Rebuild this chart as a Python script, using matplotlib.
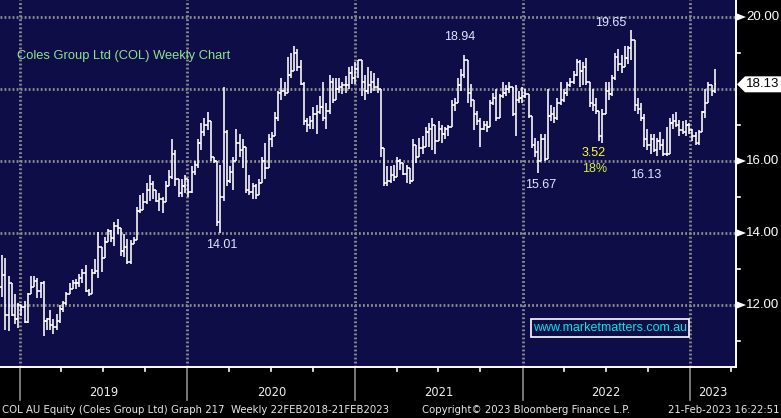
import matplotlib
matplotlib.use('Agg')
import matplotlib.pyplot as plt
import matplotlib.dates as mdates
from matplotlib.collections import LineCollection
from matplotlib.patches import Polygon, Rectangle
import pandas as pd
import datetime as dt

plt.rcParams['lines.scale_dashes'] = False

# ---------------- data (weekly bars, COL AU) ----------------
first_week = '2018-11-23'

opens = [12.5, 12.84, 11.71, 12.6, 11.73, 11.6, 12.0, 11.95, 11.52, 12.3,
         12.5, 12.68, 12.4, 12.6, 11.55, 11.6, 11.45, 11.4, 11.55, 11.9,
         12.05, 12.3, 12.45, 12.6, 12.62, 12.75, 12.9, 12.4, 12.3, 12.9,
         12.95, 13.6, 13.3, 13.75, 14.05, 13.85, 14.2, 14.15, 13.5, 13.6,
         13.2, 13.7, 13.8, 14.6, 14.65, 14.85, 15.2, 15.35, 15.2, 14.9,
         14.95, 14.85, 15.3, 15.55, 16.2, 15.5, 15.1, 15.3, 15.5, 15.15,
         15.7, 15.9, 16.5, 16.8, 17.0, 17.1, 16.1, 16.0, 14.3, 15.0,
         16.8, 15.45, 15.7, 16.0, 16.5, 16.3, 16.4, 15.2, 15.15, 15.3,
         15.05, 15.4, 16.0, 15.8, 16.6, 16.7, 17.2, 17.9, 17.95, 17.9,
         18.4, 18.5, 19.0, 18.6, 18.15, 17.1, 17.0, 17.1, 17.3, 17.35,
         17.5, 17.2, 17.4, 18.2, 17.7, 18.0, 18.05, 18.1, 18.1, 18.45,
         18.3, 18.55, 18.8, 18.2, 17.95, 18.1, 18.2, 18.05, 18.0, 16.35,
         15.4, 15.45, 15.6, 15.55, 16.0, 15.95, 15.65, 15.8, 15.45, 16.45,
         16.1, 16.35, 16.4, 16.8, 16.9, 17.0, 16.55, 16.9, 16.75, 16.9,
         16.95, 17.55, 17.6, 18.1, 18.4, 18.8, 17.9, 17.7, 17.3, 17.1,
         16.9, 17.0, 16.95, 17.6, 17.75, 17.2, 17.8, 17.9, 18.0, 18.05,
         17.3, 17.7, 17.75, 17.8, 17.85, 17.25, 16.45, 16.25, 16.0, 16.6,
         16.05, 17.25, 17.3, 17.2, 17.6, 17.7, 17.9, 18.1, 18.2, 18.4,
         18.75, 18.5, 18.6, 18.2, 17.6, 17.55, 17.4, 16.7, 17.3, 17.95,
         17.85, 18.3, 18.9, 18.7, 18.6, 18.85, 19.15, 19.35, 17.55, 17.45,
         17.2, 16.6, 16.45, 16.6, 16.3, 16.55, 16.45, 16.2, 16.2, 17.05,
         17.1, 17.0, 16.85, 16.8, 17.0, 16.85, 16.7, 16.5, 16.8, 17.35,
         17.6, 18.1, 17.95]

highs = [13.38, 13.31, 12.8, 12.6, 12.3, 12.05, 12.0, 12.1, 12.34, 12.8,
         12.8, 12.75, 12.65, 12.66, 11.65, 11.85, 11.6, 11.75, 12.0, 12.1,
         12.35, 12.6, 12.7, 12.72, 12.85, 13.0, 13.1, 12.45, 13.0, 13.28,
         14.03, 13.6, 13.9, 14.12, 14.07, 14.3, 14.4, 14.03, 13.98, 13.84,
         13.8, 13.9, 14.73, 15.05, 15.1, 15.4, 15.6, 15.45, 15.1, 15.1,
         15.0, 15.45, 15.75, 16.6, 16.3, 15.4, 15.5, 15.6, 15.5, 15.85,
         16.0, 16.6, 17.05, 17.2, 17.35, 17.1, 16.1, 16.0, 15.9, 18.05,
         16.85, 15.85, 16.1, 16.9, 16.75, 16.6, 15.9, 15.6, 15.4, 15.35,
         15.5, 16.1, 16.5, 16.75, 16.8, 17.35, 17.95, 18.3, 18.2, 18.9,
         19.0, 19.2, 19.1, 18.8, 18.2, 17.2, 17.25, 17.5, 17.55, 17.8,
         18.2, 17.6, 18.4, 18.3, 18.3, 18.3, 18.2, 18.35, 18.6, 18.65,
         18.75, 18.8, 18.8, 18.4, 18.6, 18.5, 18.45, 18.3, 18.0, 16.3,
         15.85, 15.85, 15.9, 16.1, 16.05, 15.95, 15.9, 15.8, 16.6, 16.35,
         16.65, 16.7, 16.95, 17.05, 17.2, 16.9, 17.1, 17.0, 16.95, 17.0,
         17.7, 17.75, 18.3, 18.55, 18.94, 18.8, 18.15, 17.7, 17.4, 17.2,
         17.1, 17.1, 17.7, 17.9, 18.0, 17.85, 18.2, 18.1, 18.2, 18.05,
         18.1, 17.95, 18.05, 18.0, 17.85, 17.25, 16.65, 16.55, 16.75, 16.75,
         18.0, 17.55, 17.5, 17.75, 18.2, 18.0, 18.2, 18.3, 18.5, 18.83,
         18.8, 18.75, 18.85, 18.2, 18.0, 17.75, 17.4, 17.45, 18.2, 18.2,
         18.4, 19.0, 19.1, 18.95, 19.2, 19.2, 19.65, 19.35, 17.75, 17.6,
         17.3, 16.9, 16.75, 16.75, 16.65, 16.8, 16.6, 16.95, 17.2, 17.3,
         17.35, 17.15, 17.1, 17.15, 17.05, 16.9, 16.8, 16.85, 17.4, 18.0,
         18.2, 18.1, 18.55]

lows = [12.22, 11.3, 11.28, 11.7, 11.46, 11.35, 11.7, 11.5, 11.5, 12.3,
        12.5, 12.2, 12.2, 11.13, 11.3, 11.3, 11.2, 11.3, 11.5, 11.8,
        12.0, 12.3, 12.45, 12.45, 12.5, 12.6, 12.35, 12.25, 12.3, 12.85,
        12.76, 12.92, 13.3, 13.9, 13.75, 13.63, 13.98, 13.35, 13.33, 13.14,
        13.14, 13.7, 13.8, 14.55, 14.75, 14.8, 14.9, 14.95, 14.85, 14.6,
        14.55, 14.95, 15.3, 15.5, 15.3, 15.0, 15.0, 15.1, 15.0, 15.1,
        15.6, 15.8, 16.3, 16.7, 16.85, 16.0, 15.95, 14.2, 14.01, 14.9,
        15.3, 15.4, 15.2, 16.0, 16.1, 15.8, 15.1, 15.05, 14.95, 14.95,
        15.05, 15.5, 15.5, 15.8, 16.4, 16.7, 17.1, 17.7, 17.8, 17.9,
        18.3, 18.5, 18.5, 18.1, 17.0, 16.8, 16.9, 16.9, 16.75, 17.3,
        17.1, 16.9, 17.3, 17.6, 17.7, 17.9, 17.85, 17.9, 18.0, 18.15,
        18.15, 18.3, 17.8, 17.7, 17.85, 17.9, 17.95, 17.9, 16.1, 15.3,
        15.3, 15.4, 15.45, 15.55, 15.75, 15.6, 15.4, 15.35, 15.45, 15.95,
        16.1, 16.2, 16.4, 16.4, 16.3, 16.2, 16.55, 16.5, 16.6, 16.7,
        16.95, 17.4, 17.6, 17.95, 18.3, 17.6, 17.5, 16.85, 17.0, 16.4,
        16.85, 16.8, 16.95, 17.55, 17.1, 17.2, 17.75, 17.8, 17.9, 17.25,
        16.7, 17.6, 17.6, 17.75, 17.2, 16.35, 16.1, 15.67, 16.0, 16.0,
        16.05, 17.1, 17.05, 17.15, 17.55, 17.65, 17.8, 18.05, 18.15, 18.35,
        18.05, 18.1, 18.1, 17.5, 17.4, 17.3, 16.55, 16.5, 17.3, 17.7,
        17.8, 18.25, 18.5, 18.45, 18.6, 18.7, 18.8, 17.4, 17.3, 17.1,
        16.4, 16.3, 16.2, 16.25, 16.15, 16.3, 16.13, 16.15, 16.2, 16.9,
        16.95, 16.7, 16.75, 16.7, 16.75, 16.55, 16.45, 16.45, 16.8, 17.2,
        17.6, 17.8, 17.9]

closes = [12.84, 11.71, 12.6, 11.73, 11.6, 12.0, 11.95, 11.52, 12.3, 12.5,
          12.68, 12.4, 12.6, 11.55, 11.6, 11.45, 11.4, 11.55, 11.9, 12.05,
          12.3, 12.45, 12.6, 12.62, 12.75, 12.9, 12.4, 12.3, 12.9, 12.95,
          13.6, 13.3, 13.75, 14.05, 13.85, 14.2, 14.15, 13.5, 13.6, 13.2,
          13.7, 13.8, 14.6, 14.65, 14.85, 15.2, 15.35, 15.2, 14.9, 14.95,
          14.85, 15.3, 15.55, 16.2, 15.5, 15.1, 15.3, 15.5, 15.15, 15.7,
          15.9, 16.5, 16.8, 17.0, 17.1, 16.1, 16.0, 14.3, 15.0, 16.8,
          15.45, 15.7, 16.0, 16.5, 16.3, 16.4, 15.2, 15.15, 15.3, 15.05,
          15.4, 16.0, 15.8, 16.6, 16.7, 17.2, 17.9, 17.95, 17.9, 18.4,
          18.5, 19.0, 18.6, 18.15, 17.1, 17.0, 17.1, 17.3, 17.35, 17.5,
          17.2, 17.4, 18.2, 17.7, 18.0, 18.05, 18.1, 18.1, 18.45, 18.3,
          18.55, 18.8, 18.2, 17.95, 18.1, 18.2, 18.05, 18.0, 16.35, 15.4,
          15.45, 15.6, 15.55, 16.0, 15.95, 15.65, 15.8, 15.45, 16.45, 16.1,
          16.35, 16.4, 16.8, 16.9, 17.0, 16.55, 16.9, 16.75, 16.9, 16.95,
          17.55, 17.6, 18.1, 18.4, 18.8, 17.9, 17.7, 17.3, 17.1, 16.9,
          17.0, 16.95, 17.6, 17.75, 17.2, 17.8, 17.9, 18.0, 18.05, 17.3,
          17.7, 17.75, 17.8, 17.85, 17.25, 16.45, 16.25, 16.0, 16.6, 16.05,
          17.25, 17.3, 17.2, 17.6, 17.7, 17.9, 18.1, 18.2, 18.4, 18.75,
          18.5, 18.6, 18.2, 17.6, 17.55, 17.4, 16.7, 17.3, 17.95, 17.85,
          18.3, 18.9, 18.7, 18.6, 18.85, 19.15, 19.35, 17.55, 17.45, 17.2,
          16.6, 16.45, 16.6, 16.3, 16.55, 16.45, 16.2, 16.2, 17.05, 17.1,
          17.0, 16.85, 16.8, 17.0, 16.85, 16.7, 16.5, 16.8, 17.35, 17.6,
          18.1, 17.95, 18.13]

y_ticks = [12.0, 14.0, 16.0, 18.0, 20.0]
y_tick_labels = ['12.00', '14.00', '16.00', '18.00', '20.00']
y_minor = [11.0, 13.0, 15.0, 17.0, 19.0]
years = ['2019', '2020', '2021', '2022', '2023']
last_price_label = '18.13'
last_price = 18.13

annotation_texts = ['18.94', '19.65', '14.01', '15.67', '16.13', '3.52', '18%']
annotation_colours = ['#dfe8ff', '#dfe8ff', '#dfe8ff', '#dfe8ff', '#dfe8ff',
                      '#ffff33', '#d8f040']
title_text = 'Coles Group Ltd (COL) Weekly Chart'
website = 'www.marketmatters.com.au'
footer_left = 'COL AU Equity (Coles Group Ltd) Graph 217  Weekly 22FEB2018-21FEB2023'
footer_mid = 'Copyright\u00a9 2023 Bloomberg Finance L.P.'
footer_right = '21-Feb-2023 16:22:51'

# ---------------- layout ----------------
W, H = 781, 418
PX_AX_W, PX_AX_H = 736, 367
NAVY = '#0e0d48'
GRID = '#8c8c8c'
FONT = 'Liberation Sans'

# pixel centres of the annotation labels (layout)
annotation_px = [(459.5, 37.5), (611, 23.5), (222, 245), (540.5, 184.5),
                 (645.5, 174.5), (594, 153), (594.5, 169)]

fig = plt.figure(figsize=(W / 100, H / 100), dpi=100, facecolor='black')
ax = fig.add_axes([0, (H - PX_AX_H) / H, PX_AX_W / W, PX_AX_H / H])
ax.set_facecolor(NAVY)

base = mdates.date2num(dt.datetime(2019, 1, 1))
ppd = (690 - 20) / 1461.0            # pixels per day
xmin = base - 20 / ppd
xmax = base + (PX_AX_W - 20) / ppd
ax.set_xlim(xmin, xmax)
ppu = 36.0                          # pixels per price unit
ymax = 20.0 + 17 / ppu
ymin = ymax - PX_AX_H / ppu
ax.set_ylim(ymin, ymax)

for s in ['top', 'left']:
    ax.spines[s].set_visible(False)
ax.spines['right'].set_color('white')
ax.spines['bottom'].set_color('white')
ax.spines['right'].set_linewidth(1.4)
ax.spines['bottom'].set_linewidth(1.4)
ax.set_xticks([])
ax.set_yticks([])

# grid
for v in y_ticks:
    ax.axhline(v, color=GRID, lw=2.0, dashes=(1.3, 1.6), zorder=1)
for yr in years:
    xd = mdates.date2num(dt.datetime(int(yr), 1, 1))
    ax.axvline(xd, color=GRID, lw=2.0, dashes=(1.3, 1.6), zorder=1)

# OHLC bars
dates = pd.date_range(first_week, periods=len(closes), freq='7D')
dn = mdates.date2num(dates.to_pydatetime())
tick = 1.7 / ppd
segs = []
for d, o, h, l, c in zip(dn, opens, highs, lows, closes):
    lo = min(l, o, c)
    hi = max(h, o, c)
    segs.append([(d, lo), (d, hi)])
    segs.append([(d - tick, o), (d, o)])
    segs.append([(d, c), (d + tick, c)])
ax.add_collection(LineCollection(segs, colors='white', linewidths=1.15, zorder=3,
                                 capstyle='butt'))

def axpos(px, py):
    return px / PX_AX_W, 1 - py / PX_AX_H

# annotations
for txt, col, (px, py) in zip(annotation_texts, annotation_colours, annotation_px):
    ax.text(*axpos(px, py), txt, transform=ax.transAxes, color=col, fontsize=9,
            family=FONT, ha='center', va='center', zorder=5)

ax.text(*axpos(17, 56.5), title_text, transform=ax.transAxes,
        color='#8fe38f', fontsize=9.3, family=FONT, ha='left', va='center')

# website box
ax.add_patch(Rectangle(axpos(531, 337), (689 - 531) / PX_AX_W,
                       18 / PX_AX_H, transform=ax.transAxes, facecolor='none',
                       edgecolor='white', lw=1.2, zorder=6))
ax.text(*axpos(610, 328), website, transform=ax.transAxes,
        color='#00e5e5', fontsize=9, family=FONT, ha='center', va='center', zorder=6)

# ---------------- right axis ----------------
ytr = ax.get_yaxis_transform()
def fx(px):
    return px / PX_AX_W

for v, lab in zip(y_ticks, y_tick_labels):
    if lab == '18.00':
        continue
    ax.add_patch(Polygon([(fx(737), v + 3.5 / ppu), (fx(737), v - 3.5 / ppu),
                          (fx(746), v)], closed=True, transform=ytr,
                         facecolor='white', edgecolor='none', clip_on=False))
    ax.text(fx(746), v, lab, transform=ytr, color='white', fontsize=9.5,
            family=FONT, ha='left', va='center', clip_on=False)
for v in y_minor:
    ax.plot([fx(736), fx(740)], [v, v], transform=ytr, color='white', lw=1.2,
            clip_on=False)

# last price label
lp = last_price
ax.add_patch(Polygon([(fx(737), lp), (fx(745), lp + 8 / ppu), (fx(781), lp + 8 / ppu),
                      (fx(781), lp - 8 / ppu), (fx(745), lp - 8 / ppu)],
                     closed=True, transform=ytr, facecolor='white',
                     edgecolor='none', clip_on=False, zorder=7))
ax.text(fx(746), lp, last_price_label, transform=ytr, color='black', fontsize=9.5,
        family=FONT, ha='left', va='center', clip_on=False, zorder=8)

# ---------------- bottom axis ----------------
xtr = ax.get_xaxis_transform()
def fy(px):
    return -px / PX_AX_H

q = dt.datetime(2019, 1, 1)
while mdates.date2num(q) < xmax:
    xd = mdates.date2num(q)
    if q.month == 1:
        ax.plot([xd, xd], [fy(0), fy(33)], transform=xtr, color='#8c8c8c',
                lw=1.2, clip_on=False)
    else:
        ax.plot([xd, xd], [fy(0), fy(4)], transform=xtr, color='white',
                lw=1.2, clip_on=False)
    q = dt.datetime(q.year + (q.month + 2) // 12, (q.month + 2) % 12 + 1, 1)

for yr in years:
    y0 = mdates.date2num(dt.datetime(int(yr), 1, 1))
    y1 = min(mdates.date2num(dt.datetime(int(yr) + 1, 1, 1)), xmax)
    ax.text((y0 + y1) / 2, fy(26), yr, transform=xtr, color='#f0f0f0',
            fontsize=8.3, family='DejaVu Sans', ha='center', va='center',
            clip_on=False)

# footer
fs_foot = 7.3
fig.text(2 / W, 1 - 410 / H, footer_left, color='#e8e8e8', fontsize=fs_foot,
         family='DejaVu Sans', ha='left', va='center')
fig.text(422 / W, 1 - 410 / H, footer_mid, color='#e8e8e8', fontsize=fs_foot,
         family='DejaVu Sans', ha='left', va='center')
fig.text(779 / W, 1 - 410 / H, footer_right, color='#e8e8e8', fontsize=fs_foot,
         family='DejaVu Sans', ha='right', va='center')

fig.savefig('out.png', dpi=100, facecolor='black')
